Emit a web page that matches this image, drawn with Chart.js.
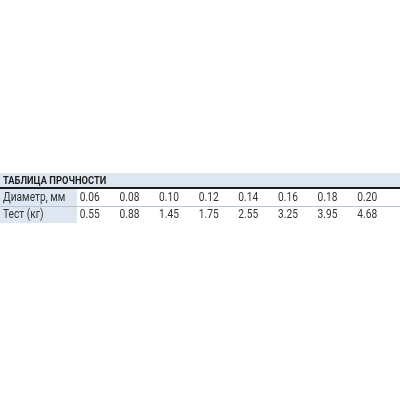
<!DOCTYPE html>
<html><head><meta charset="utf-8">
<script src="https://cdn.jsdelivr.net/npm/chart.js@4"></script>
<style>html,body{margin:0;background:#fff}#w{width:400px;height:400px}</style>
</head><body><div id="w"><canvas id="c"></canvas></div>
<script>
const title = "ТАБЛИЦА ПРОЧНОСТИ";
const rowLabels = ["Диаметр, мм", "Тест (кг)"];
const diameters = ["0.06","0.08","0.10","0.12","0.14","0.16","0.18","0.20"];
const tests = [0.55,0.88,1.45,1.75,2.55,3.25,3.95,4.68];

const tablePlugin = {
  id: 'table',
  afterDraw(chart) {
    const ctx = chart.ctx, xs = chart.scales.x;
    const W = chart.width;
    ctx.save();
    ctx.fillStyle = '#dde6f1';
    ctx.fillRect(0, 173, W, 15);
    ctx.fillRect(0, 189, 77, 34);
    ctx.fillStyle = '#1a1a1a';
    ctx.fillRect(0, 187, W, 2);
    ctx.fillStyle = '#b9c4d2';
    ctx.fillRect(0, 206, W, 1);
    ctx.textBaseline = 'middle';
    ctx.fillStyle = '#1e1e1e';
    ctx.save();
    ctx.scale(0.85, 1);
    ctx.font = 'bold 11px Roboto, sans-serif';
    ctx.fillText(title, 3 / 0.85, 181);
    ctx.font = '12px Roboto, sans-serif';
    ctx.fillStyle = '#333';
    ctx.textAlign = 'left';
    ctx.fillText(rowLabels[0], 3 / 0.85, 198);
    ctx.fillText(rowLabels[1], 3 / 0.85, 215);
    ctx.textAlign = 'center';
    diameters.forEach((d, i) => {
      const x = xs.getPixelForValue(i) / 0.85;
      ctx.fillText(d, x, 198);
      ctx.fillText(tests[i].toFixed(2), x, 215);
    });
    ctx.restore();
    ctx.restore();
  }
};

new Chart(document.getElementById('c'), {
  type: 'line',
  data: { labels: diameters, datasets: [{ data: tests, borderColor: 'transparent', pointRadius: 0 }] },
  options: {
    responsive: true, maintainAspectRatio: false, animation: false,
    layout: { padding: { left: 70, right: 13, top: 0, bottom: 0 } },
    plugins: { legend: { display: false }, tooltip: { enabled: false } },
    scales: {
      x: { display: false, offset: true },
      y: { display: false }
    }
  },
  plugins: [tablePlugin]
});
</script></body></html>
